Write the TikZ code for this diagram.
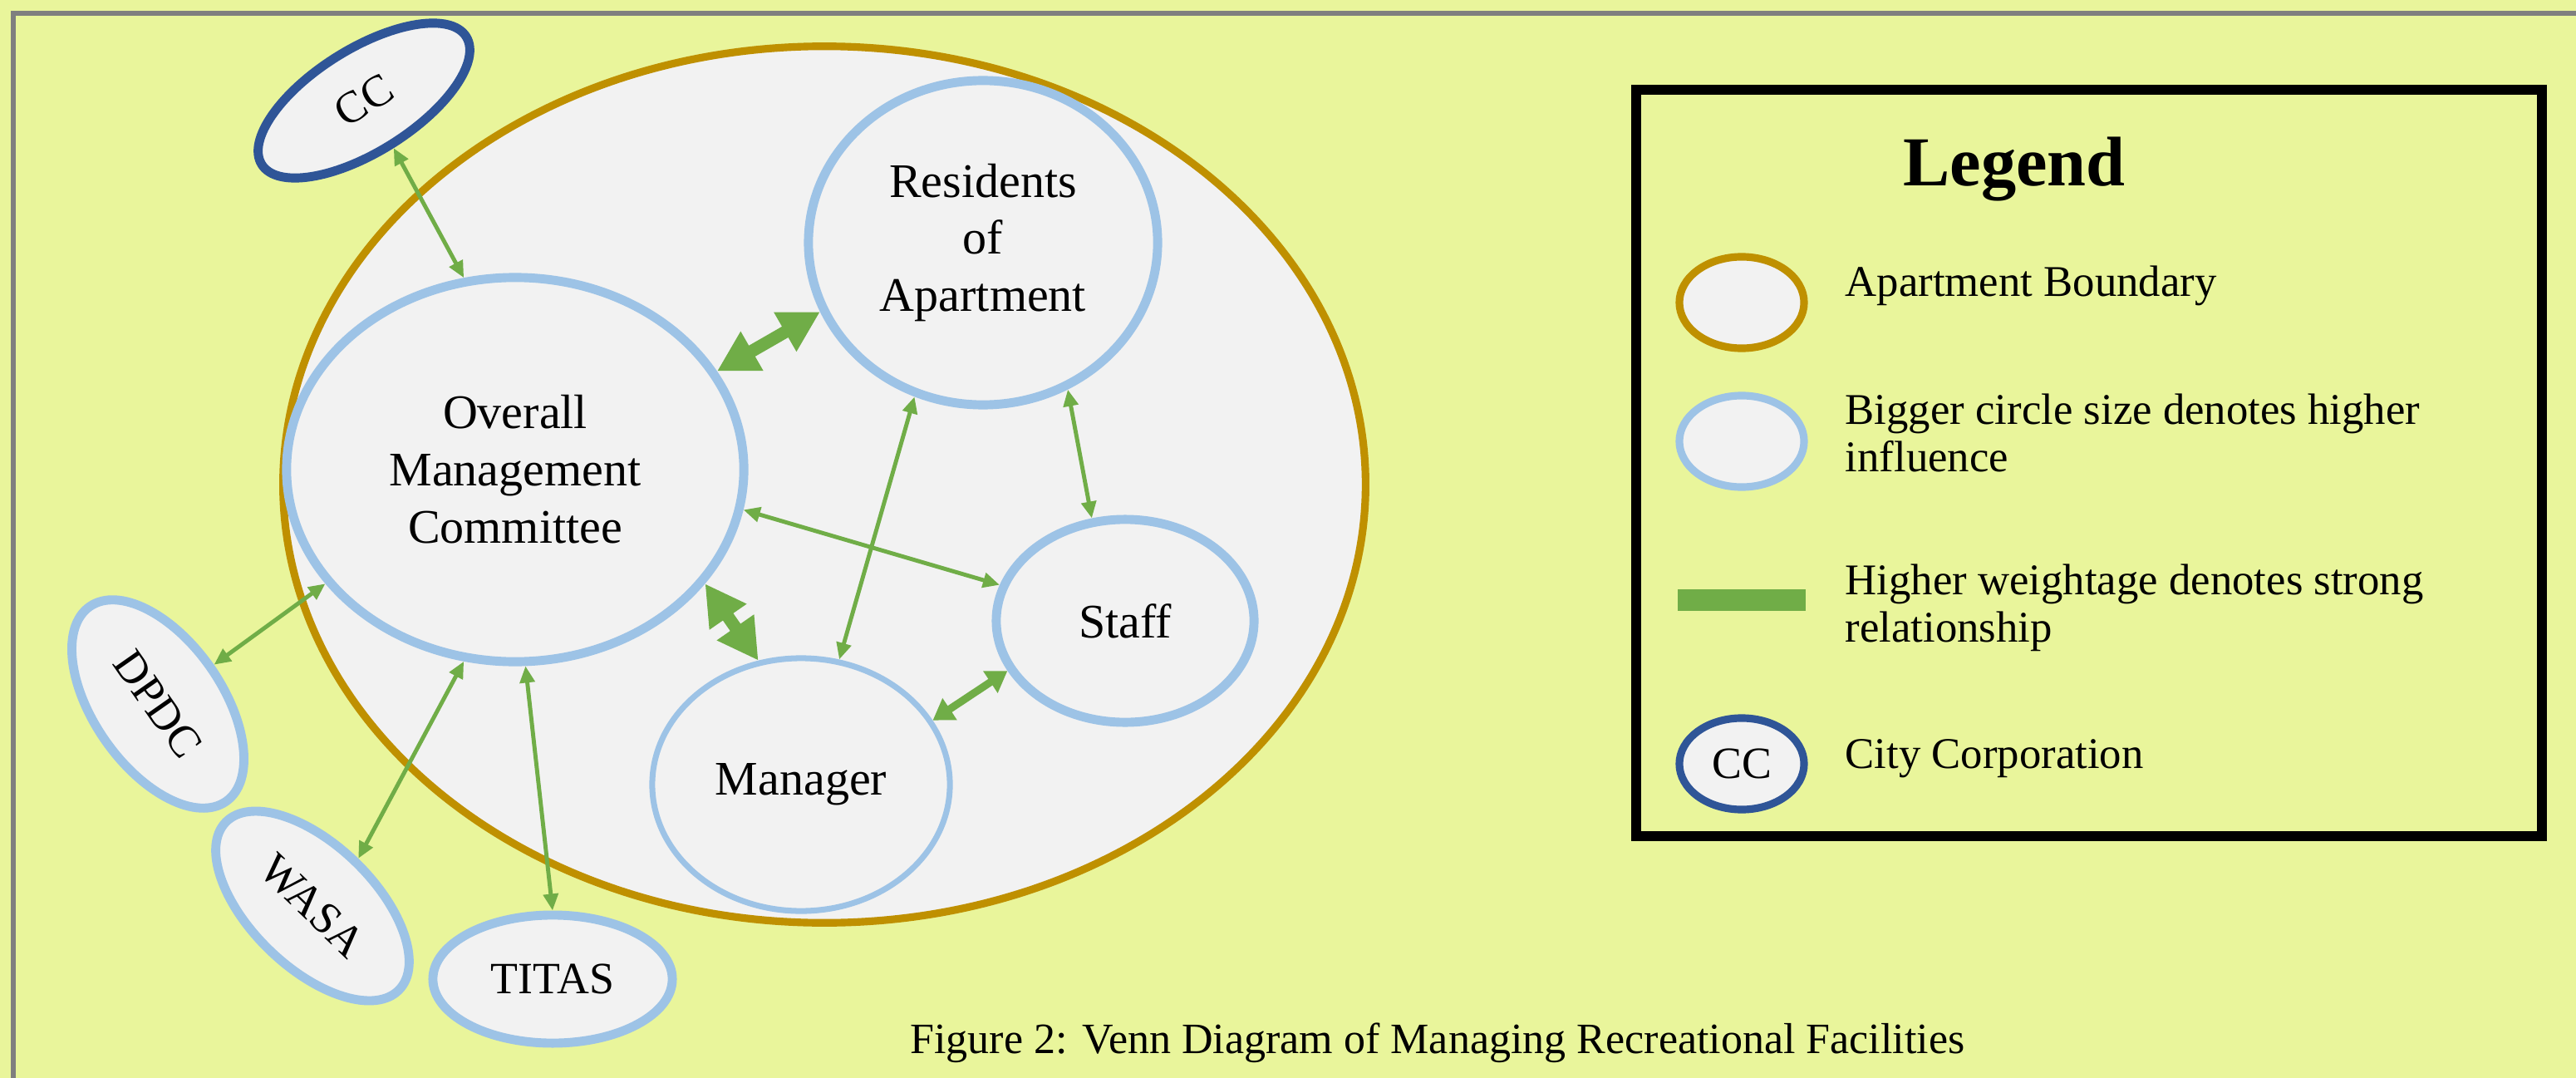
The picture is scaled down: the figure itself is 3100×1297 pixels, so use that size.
\documentclass[tikz,border=0pt]{standalone}
\usepackage{fontspec}
\setmainfont{Liberation Serif}
\usetikzlibrary{shapes.geometric}
\usetikzlibrary{arrows.meta}

\definecolor{fond}{RGB}{233,245,155}
\definecolor{gris}{RGB}{242,242,242}
\definecolor{bleuclair}{RGB}{157,195,230}
\definecolor{bleufonce}{RGB}{47,85,151}
\definecolor{ocre}{RGB}{191,144,0}
\definecolor{vert}{RGB}{112,173,71}

\begin{document}
\begin{tikzpicture}[x=0.01cm,y=-0.01cm,
bulle/.style={ellipse,draw=bleuclair,fill=gris,line width=3.1pt,inner sep=0pt,align=center,font=\fontsize{16.5}{19.6}\selectfont},
ext/.style={bulle,font=\fontsize{15.3}{18}\selectfont},
lien/.style={vert,line width=1.4pt,{Triangle[length=5.7pt,width=5pt]}-{Triangle[length=5.7pt,width=5pt]}},
lienmoyen/.style={vert,line width=2.6pt,{Triangle[length=7pt,width=8.5pt]}-{Triangle[length=7pt,width=8.5pt]}},
lienfort/.style={vert,line width=4.3pt,{Triangle[length=13.8pt,width=14.5pt]}-{Triangle[length=13.8pt,width=14.5pt]}},
symb/.style={ellipse,fill=gris,line width=2.6pt,inner sep=0pt,minimum width=1.5cm,minimum height=1.1cm},
legtxt/.style={anchor=west,align=left,inner sep=0pt,font=\fontsize{15}{16.2}\selectfont}]
\useasboundingbox (0,0) rectangle (3100,1297);
\fill[fond] (0,0) rectangle (3100,1297);
\draw[draw={rgb,255:red,127;green,127;blue,127},line width=1.7pt] (16,16) rectangle (3150,1350);

% limite de l'immeuble
\node[ellipse,draw=ocre,fill=gris,line width=2.6pt,minimum width=13.02cm,minimum height=10.54cm] (APT) at (992,583) {};

\node[bulle,minimum width=5.5cm,minimum height=4.62cm] (OMC) at (620,565) {Overall\\Management\\Committee};
\node[bulle,minimum width=4.2cm,minimum height=3.9cm] (RES) at (1183,292) {Residents\\of\\Apartment};
\node[bulle,minimum width=3.1cm,minimum height=2.44cm] (STF) at (1354,747) {Staff};
\node[bulle,line width=2pt,minimum width=3.58cm,minimum height=3.04cm] (MGR) at (964,944) {\raisebox{-0.5ex}{Manager}};

% acteurs externes
\node[ext,draw=bleufonce,minimum width=2.9cm,minimum height=1.24cm,rotate=32] (CC) at (438,121) {CC};
\node[ext,minimum width=2.86cm,minimum height=1.54cm,rotate=-55] (DPDC) at (190,847) {DPDC};
\node[ext,minimum width=2.9cm,minimum height=1.48cm,rotate=-44] (WASA) at (376,1090) {WASA};
\node[ext,minimum width=2.88cm,minimum height=1.54cm] (TITAS) at (665,1178) {TITAS};

\draw[lien] (CC.-90) -- (OMC.105);
\draw[lienfort] (OMC.26.5) -- (RES.-157);
\draw[lien] (OMC.-10) -- (STF.164);
\draw[lienfort] (OMC.-31) -- (MGR.109);
\draw[lien] (RES.-114.5) -- (MGR.73);
\draw[lien] (RES.-60.7) -- (STF.108);
\draw[lienmoyen] (MGR.26.6) -- (STF.-157.6);
\draw[lien] (OMC.-149) -- (DPDC.90);
\draw[lien] (OMC.-105.8) -- (WASA.90);
\draw[lien] (OMC.-87.5) -- (TITAS.90);

% legende
\draw[line width=3.3pt] (1969,108) rectangle (3059,1006);
\node[font=\bfseries\fontsize{24}{28}\selectfont] (titre) at (2424,204) {Legend};
\node[symb,draw=ocre] (L1) at (2096,364) {};
\node[symb,draw=bleuclair] (L2) at (2096,531) {};
\node[fill=vert,inner sep=0pt,minimum width=1.54cm,minimum height=0.26cm] (L3) at (2096,722) {};
\node[symb,draw=bleufonce,font=\fontsize{15.3}{18}\selectfont] (L4) at (2096,919) {CC};
\node[legtxt] (T1) at (2220,344) {Apartment Boundary};
\node[legtxt] (T2) at (2220,521) {Bigger circle size denotes higher\\influence};
\node[legtxt] (T3) at (2220,731) {Higher weightage denotes strong\\relationship};
\node[legtxt] (T4) at (2220,913) {City Corporation};

\node[font=\fontsize{14.8}{17}\selectfont] (legende) at (1730,1255) {Figure 2: Venn Diagram of Managing Recreational Facilities};
\end{tikzpicture}
\end{document}
